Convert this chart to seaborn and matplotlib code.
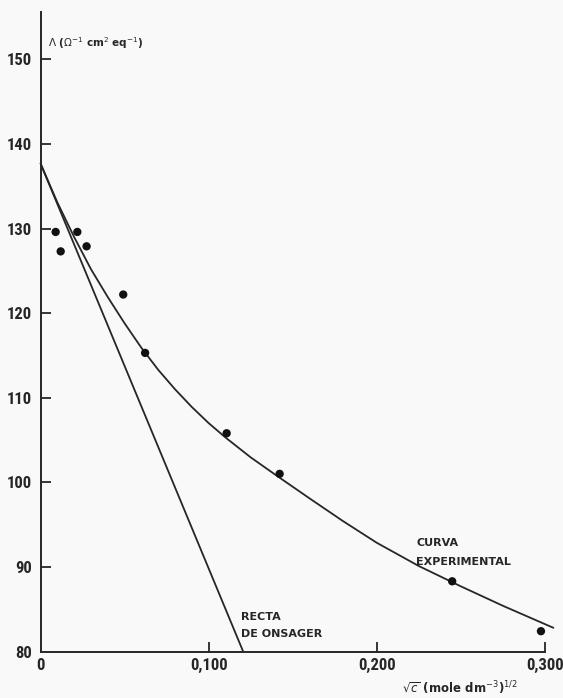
import matplotlib
matplotlib.use("Agg")
import matplotlib.pyplot as plt
from matplotlib import font_manager as fm
import seaborn as sns
import pandas as pd

# Measured conductivity points: sqrt(c) and molar conductivity
sqrt_c = [0.0090, 0.0120, 0.0219, 0.0274, 0.0492, 0.0622, 0.1107, 0.1422, 0.2448, 0.2976]
lam = [129.6, 127.3, 129.6, 127.9, 122.2, 115.3, 105.8, 101.0, 88.3, 82.4]

# Experimental curve traced through the data
curve_x = [0.000, 0.010, 0.020, 0.030, 0.040, 0.050, 0.060, 0.070, 0.080, 0.090,
           0.100, 0.110, 0.125, 0.140, 0.160, 0.180, 0.200, 0.225, 0.250, 0.275, 0.305]
curve_y = [137.7, 133.1, 129.0, 125.2, 121.9, 118.8, 115.9, 113.3, 111.0, 108.9,
           107.0, 105.3, 102.95, 100.85, 98.1, 95.4, 92.85, 90.1, 87.7, 85.4, 82.8]

# Onsager limiting law (straight line)
onsager_x = [0.0, 0.1205]
onsager_y = [137.7, 80.0]

y_ticks = [80, 90, 100, 110, 120, 130, 140, 150]
x_ticks = [0.0, 0.1, 0.2, 0.3]
x_tick_labels = ["0", "0,100", "0,200", "0,300"]

sns.set_theme(style="white")
plt.rcParams["font.family"] = ["DejaVu Sans"]
plt.rcParams["mathtext.fontset"] = "dejavusans"

# narrow face for the numeric tick labels, when one is installed
installed = {f.name for f in fm.fontManager.ttflist}
narrow = next((n for n in ["Liberation Sans Narrow", "Roboto Condensed",
                           "Open Sans Condensed", "Noto Sans Condensed",
                           "DejaVu Sans Condensed"] if n in installed), None)
tick_font = dict(family=[narrow or "DejaVu Sans"], stretch="condensed",
                 weight="bold", size=12 if narrow else 10.5)

ink = "#262626"
bg = "#f9f9f9"

fig = plt.figure(figsize=(5.63, 6.98), dpi=100, facecolor=bg)
ax = fig.add_axes([40.5 / 563, 46.5 / 698, (545 - 40.5) / 563, (651.5 - 12) / 698])
ax.set_facecolor(bg)

pts = pd.DataFrame({"x": sqrt_c, "y": lam})
curve = pd.DataFrame({"x": curve_x, "y": curve_y})
onsager = pd.DataFrame({"x": onsager_x, "y": onsager_y})

sns.lineplot(data=curve, x="x", y="y", ax=ax, color=ink, lw=1.3, sort=False,
             estimator=None, clip_on=False)
sns.lineplot(data=onsager, x="x", y="y", ax=ax, color=ink, lw=1.3, sort=False,
             estimator=None)
sns.scatterplot(data=pts, x="x", y="y", ax=ax, color="#111111", s=36,
                edgecolor="none", zorder=5, clip_on=False)

ax.set_xlim(0, 0.3)
ax.set_ylim(80, 155.6)

for s in ["top", "right"]:
    ax.spines[s].set_visible(False)
for s in ["left", "bottom"]:
    ax.spines[s].set_color(ink)
    ax.spines[s].set_linewidth(1.4)

ax.set_yticks(y_ticks)
ax.set_yticklabels([str(v) for v in y_ticks], fontdict=tick_font)
ax.set_xticks(x_ticks)
ax.set_xticklabels(x_tick_labels, fontdict=tick_font)
ax.tick_params(axis="y", direction="in", length=7, width=1.3, color=ink,
               labelcolor=ink, pad=6, left=True)
ax.tick_params(axis="x", direction="in", length=7, width=1.3, color=ink,
               labelcolor=ink, pad=5, bottom=True)
# no tick marks at the origin
ax.yaxis.get_major_ticks()[0].tick1line.set_visible(False)
ax.xaxis.get_major_ticks()[0].tick1line.set_visible(False)
ax.set_xlabel("")
ax.set_ylabel("")

ax.text(0.0045, 151.95, r"$\Lambda$ ($\Omega^{-1}$ cm$^{2}$ eq$^{-1}$)", fontsize=7.5,
        color=ink, fontweight="bold", ha="left", va="center")
fig.text(402 / 563, 1 - 688 / 698, r"$\sqrt{c}$ (mole dm$^{-3}$)$^{1/2}$", fontsize=8.5,
         color=ink, fontweight="bold", ha="left", va="center")

note = dict(fontsize=8, fontweight="bold", color=ink, ha="left", va="center")
ax.text(0.2235, 92.8, "CURVA", **note)
ax.text(0.2235, 90.6, "EXPERIMENTAL", **note)
ax.text(0.1195, 84.1, "RECTA", **note)
ax.text(0.1195, 82.1, "DE ONSAGER", **note)

fig.savefig("out.png", dpi=100, facecolor=bg)
